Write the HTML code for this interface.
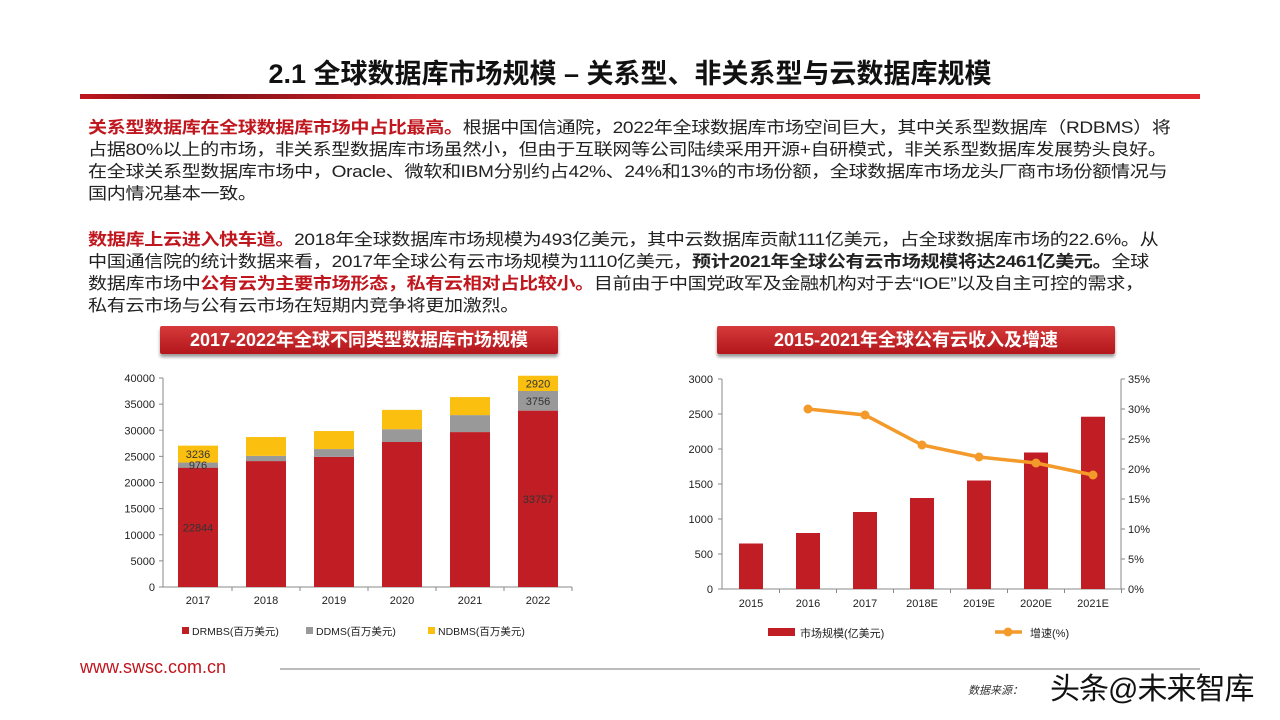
<!DOCTYPE html>
<html><head><meta charset="utf-8">
<style>
body{margin:0;width:1280px;height:720px;background:#fff;position:relative;overflow:hidden;font-family:"Liberation Sans","Noto Sans CJK SC",sans-serif;}
.abs{position:absolute;}
.t{position:absolute;left:88px;font-size:16.6px;white-space:nowrap;color:#222;line-height:22px;letter-spacing:-0.3px;transform:scaleX(1.15);transform-origin:left top}
.r{color:#c0161e;font-weight:bold}
.b{font-weight:bold}
.banner{position:absolute;height:28px;background:linear-gradient(#d63a3a,#b3161b);color:#fff;font-weight:bold;font-size:18px;text-align:center;line-height:28px;box-shadow:0 3px 3px #999;border-radius:2px}
</style></head><body>
<div class="abs" style="left:0;width:1260px;top:52px;text-align:center;font-size:27px;font-weight:bold;color:#111;white-space:nowrap">2.1 全球数据库市场规模 – 关系型、非关系型与云数据库规模</div>
<div class="abs" style="left:80px;top:94px;width:1120px;height:5px;background:linear-gradient(90deg,#c0161e,#7a1015 10%,#d4232a 30%,#e0282e)"></div>
<div>
<div class="t" style="top:117px"><span class="r">关系型数据库在全球数据库市场中占比最高。</span>根据中国信通院，2022年全球数据库市场空间巨大，其中关系型数据库（RDBMS）将</div>
<div class="t" style="top:139px">占据80%以上的市场，非关系型数据库市场虽然小，但由于互联网等公司陆续采用开源+自研模式，非关系型数据库发展势头良好。</div>
<div class="t" style="top:161px">在全球关系型数据库市场中，Oracle、微软和IBM分别约占42%、24%和13%的市场份额，全球数据库市场龙头厂商市场份额情况与</div>
<div class="t" style="top:183px">国内情况基本一致。</div>
</div>
<div>
<div class="t" style="top:229px"><span class="r">数据库上云进入快车道。</span>2018年全球数据库市场规模为493亿美元，其中云数据库贡献111亿美元，占全球数据库市场的22.6%。从</div>
<div class="t" style="top:251px">中国通信院的统计数据来看，2017年全球公有云市场规模为1110亿美元，<span class="b">预计2021年全球公有云市场规模将达2461亿美元。</span>全球</div>
<div class="t" style="top:273px">数据库市场中<span class="r">公有云为主要市场形态，私有云相对占比较小。</span>目前由于中国党政军及金融机构对于去“IOE”以及自主可控的需求，</div>
<div class="t" style="top:295px">私有云市场与公有云市场在短期内竞争将更加激烈。</div>
</div>
<div class="banner" style="left:160px;top:326px;width:398px">2017-2022年全球不同类型数据库市场规模</div>
<div class="banner" style="left:717px;top:326px;width:398px">2015-2021年全球公有云收入及增速</div>
<svg class="abs" style="left:0;top:0" width="1280" height="720" id="svg"></svg>
<div class="abs" style="left:80px;top:657px;font-size:18px;color:#c0161e;white-space:nowrap">www.swsc.com.cn</div>
<div class="abs" style="left:280px;top:668px;width:920px;height:2px;background:#bbb"></div>
<div class="abs" style="left:968px;top:682px;font-size:11px;font-style:italic;color:#333;white-space:nowrap">数据来源：</div>
<div class="abs" style="left:1050px;top:664px;font-size:30px;color:#111;white-space:nowrap;letter-spacing:-1px">头条@未来智库</div>
<script>
const years1=["2017","2018","2019","2020","2021","2022"];
const drmbs=[22844,24100,24900,27750,29650,33757];
const ddms=[976,1000,1500,2450,3250,3756];
const ndbms=[3236,3600,3450,3700,3450,2920];
const yTicks1=[0,5000,10000,15000,20000,25000,30000,35000,40000];
const years2=["2015","2016","2017","2018E","2019E","2020E","2021E"];
const cloud=[650,800,1100,1300,1550,1950,2461];
const growth=[null,30,29,24,22,21,19];
const yTicks2=[0,500,1000,1500,2000,2500,3000];
const pTicks=[0,5,10,15,20,25,30,35];
const NS="http://www.w3.org/2000/svg";
const svg=document.getElementById('svg');
function mk(tag,attrs,txt){const e=document.createElementNS(NS,tag);for(const k in attrs)e.setAttribute(k,attrs[k]);if(txt!=null)e.textContent=txt;svg.appendChild(e);return e;}
const font='"Liberation Sans","Noto Sans CJK SC",sans-serif';
// chart 1
const y1=v=>587-v*209/40000, x1=i=>198+i*68;
mk('line',{x1:163,y1:378,x2:163,y2:587,stroke:'#888'});
mk('line',{x1:163,y1:587,x2:572,y2:587,stroke:'#888'});
yTicks1.forEach(t=>{const e=mk('text',{x:155,y:y1(t)+4,'text-anchor':'end','font-size':11,'font-family':font,fill:'#222'},t);


mk('line',{x1:159,x2:163,y1:y1(t),y2:y1(t),stroke:'#888'});});
years1.forEach((y,i)=>{
 const x=x1(i),w=40;
 const a=drmbs[i],b=ddms[i],c=ndbms[i];
 let r=mk('rect',{x:x-w/2,y:y1(a),width:w,height:y1(0)-y1(a),fill:'#c01e24'});
 
 
 r=mk('rect',{x:x-w/2,y:y1(a+b),width:w,height:y1(a)-y1(a+b),fill:'#999'});
 
 
 r=mk('rect',{x:x-w/2,y:y1(a+b+c),width:w,height:y1(a+b)-y1(a+b+c),fill:'#fbbf10'});
 
 
 const t=mk('text',{x:x,y:604,'text-anchor':'middle','font-size':11,'font-family':font,fill:'#222'},y);
 
 
 mk('line',{x1:x+34,x2:x+34,y1:587,y2:591,stroke:'#888'});
 if(i===0||i===5){
  mk('text',{x:x,y:y1(a/2)+4,'text-anchor':'middle','font-size':11,'font-family':font,fill:'#333'},a);
  mk('text',{x:x,y:y1(a+b/2)+4,'text-anchor':'middle','font-size':11,'font-family':font,fill:'#333'},b);
  mk('text',{x:x,y:y1(a+b+c/2)+4,'text-anchor':'middle','font-size':11,'font-family':font,fill:'#333'},c);
 }
});
[['#c01e24','DRMBS(百万美元)',182],['#999','DDMS(百万美元)',306],['#fbbf10','NDBMS(百万美元)',428]].forEach(l=>{
 const r=mk('rect',{x:l[2],y:627,width:7,height:7,fill:l[0]});
 
 
 const t=mk('text',{x:l[2]+10,y:635,'font-size':10.5,'font-family':font,fill:'#222'},l[1]);
 
 
});
// chart 2
const y2=v=>589-v*210/3000, p2=v=>589-v*210/35, x2=i=>751+i*57;
mk('line',{x1:722,y1:379,x2:722,y2:589,stroke:'#888'});
mk('line',{x1:1121,y1:379,x2:1121,y2:589,stroke:'#888'});
mk('line',{x1:722,y1:589,x2:1121,y2:589,stroke:'#888'});
yTicks2.forEach(t=>{const e=mk('text',{x:713,y:y2(t)+4,'text-anchor':'end','font-size':11,'font-family':font,fill:'#222'},t);


mk('line',{x1:718,x2:722,y1:y2(t),y2:y2(t),stroke:'#888'});});
pTicks.forEach(t=>{const e=mk('text',{x:1128,y:p2(t)+4,'font-size':11,'font-family':font,fill:'#222'},t+'%');


mk('line',{x1:1121,x2:1125,y1:p2(t),y2:p2(t),stroke:'#888'});});
years2.forEach((y,i)=>{
 const x=x2(i);
 const r=mk('rect',{x:x-12,y:y2(cloud[i]),width:24,height:y2(0)-y2(cloud[i]),fill:'#c01e24'});
 
 
 const t=mk('text',{x:x,y:607,'text-anchor':'middle','font-size':11,'font-family':font,fill:'#222'},y);
 
 
 mk('line',{x1:x+28.5,x2:x+28.5,y1:589,y2:593,stroke:'#888'});
});
let pts=[];growth.forEach((g,i)=>{if(g!=null)pts.push(x2(i)+','+p2(g));});
const pl=mk('polyline',{points:pts.join(' '),fill:'none',stroke:'#f39a2a','stroke-width':3.5});


growth.forEach((g,i)=>{if(g==null)return;const c=mk('circle',{cx:x2(i),cy:p2(g),r:4.5,fill:'#f39a2a'});

});
let lr=mk('rect',{x:768,y:628,width:27,height:8,fill:'#c01e24'});


let lt=mk('text',{x:800,y:637,'font-size':11,'font-family':font,fill:'#222'},'市场规模(亿美元)');


mk('line',{x1:995,y1:632,x2:1022,y2:632,stroke:'#f39a2a','stroke-width':3.5});
mk('circle',{cx:1008,cy:632,r:4.5,fill:'#f39a2a'});
lt=mk('text',{x:1030,y:637,'font-size':11,'font-family':font,fill:'#222'},'增速(%)');


</script>
</body></html>
